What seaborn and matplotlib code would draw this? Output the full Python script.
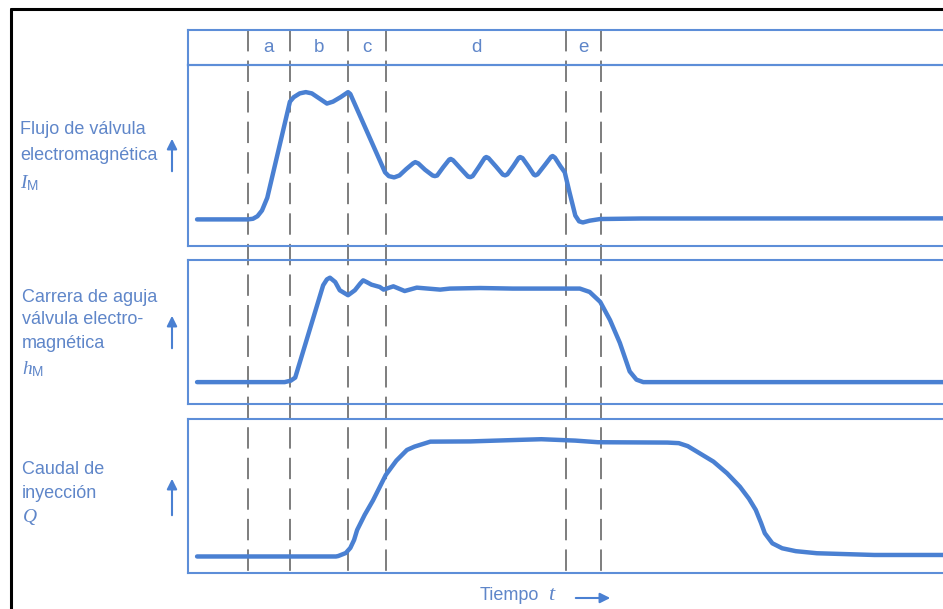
import numpy as np
import pandas as pd
import seaborn as sns
import matplotlib.pyplot as plt
from matplotlib.lines import Line2D

# phase boundaries (time axis 0..100) and labels
bounds = [7.95, 13.5, 21.2, 26.2, 50.1, 54.7]
phases = ["a", "b", "c", "d", "e"]

# valve current I_M
t_flujo = [1.2, 7.9, 8.6, 9.2, 9.8, 10.5, 13.5, 14.0, 14.8, 15.6, 16.4, 17.4, 18.4,
           19.2, 20.2, 21.2, 21.5, 26.1, 26.6, 27.3, 28.0, 28.9, 29.8, 30.1, 30.5,
           31.4, 32.4, 32.7, 33.0, 33.8, 34.6, 34.8, 35.1, 36.1, 37.1, 37.4, 37.7,
           38.5, 39.3, 39.5, 39.8, 40.8, 41.7, 42.0, 42.3, 43.1, 43.8, 44.0, 44.3,
           45.1, 45.8, 46.0, 46.3, 47.3, 48.1, 48.3, 48.6, 49.3, 49.9, 50.5, 51.3,
           51.8, 52.3, 53.2, 54.6, 60.0, 100.0]
v_flujo = [0, 0, 0.5, 2.5, 7, 17, 92.5, 96, 99, 100, 99, 95, 91,
           92.5, 96, 100, 98.5, 37, 34, 33, 34.5, 39.5, 44, 45, 44,
           39, 34.5, 34, 34.5, 41, 47, 47.5, 46.5, 40, 33.6, 33.2, 34,
           41, 48.3, 49, 48.2, 41.5, 35.2, 34.6, 35.4, 42, 48.3, 49, 48.2,
           41.5, 35.2, 34.6, 35.4, 43, 49.2, 49.8, 48.5, 42, 37, 22, 3,
           -1.5, -2.4, -1, 0.3, 0.7, 0.8]

# needle lift h_M
t_carrera = [1.2, 12.8, 13.6, 14.2, 17.9, 18.4, 18.8, 19.5, 20.1, 21.2, 22.1, 22.8,
             23.2, 23.7, 24.3, 25.4, 25.9, 27.2, 28.7, 30.3, 33.4, 34.7, 38.7, 43.0,
             51.9, 53.2, 54.6, 55.9, 57.2, 58.5, 59.4, 60.3, 100.0]
v_carrera = [0, 0, 1.5, 4.8, 103.2, 109.5, 111.3, 106.7, 97.9, 92.6, 97.9, 105,
             108.5, 106.5, 103.9, 101.4, 98.6, 102.1, 97.1, 100.7, 98.6, 99.7, 100.3, 99.7,
             99.7, 96.1, 85.5, 66.1, 41.8, 11.4, 2.6, 0, 0]

# injection rate Q
t_caudal = [1.2, 19.6, 19.9, 20.9, 21.5, 22.0, 22.4, 23.4, 24.5, 26.2, 27.6, 29.0,
            30.0, 32.1, 37.4, 43.7, 46.8, 51.3, 54.3, 63.5, 65.0, 66.2, 67.6, 69.6,
            71.4, 73.1, 74.3, 75.2, 75.9, 76.4, 77.4, 78.7, 80.5, 83.3, 90.9, 100.0]
v_caudal = [0, 0, 0.4, 3, 7.4, 14.3, 22.9, 36, 48.5, 70.6, 83, 92.2,
            95.1, 99.4, 99.6, 100.9, 101.5, 100.3, 98.9, 98.6, 98.1, 95.5, 90, 82.1,
            72, 60.4, 50, 40.3, 29, 20.1, 11.4, 7.1, 4.6, 2.8, 1.3, 1.3]

sns.set_style("white")
plt.rcParams['font.family'] = ['Liberation Sans', 'DejaVu Sans']
plt.rcParams['mathtext.fontset'] = 'custom'
plt.rcParams['mathtext.rm'] = 'Liberation Sans'
plt.rcParams['mathtext.it'] = 'Liberation Serif:italic'

frame_col = "#5d8ed8"
curve_col = "#4a80d2"
text_col = "#5f86c9"

W, H = 943, 609
fig = plt.figure(figsize=(W / 100, H / 100), dpi=100)


def box(left, top, right, bottom):
    return [left / W, 1 - bottom / H, (right - left) / W, (bottom - top) / H]


def style_axes(ax):
    ax.set_facecolor("none")
    ax.set_xlim(0, 100)
    ax.set_xticks([])
    ax.set_yticks([])
    ax.set_xlabel("")
    ax.set_ylabel("")
    for side in ["left", "top", "bottom"]:
        ax.spines[side].set_color(frame_col)
        ax.spines[side].set_linewidth(1.5)
        ax.spines[side].set_visible(True)
    ax.spines["right"].set_visible(False)


# dashed phase guides running through all panels
guide = fig.add_axes(box(188, 30, 943, 573), zorder=0)
guide.set_xlim(0, 100)
guide.set_ylim(0, 1)
guide.axis("off")
for b in bounds:
    guide.plot([b, b], [1, 0], color="#5a5a5a", lw=1.1, ls=(0, (14, 6)))

# header strip with phase letters
head = fig.add_axes(box(188, 30, 943, 65), zorder=1)
style_axes(head)
head.set_ylim(0, 1)
for i, p in enumerate(phases):
    head.text((bounds[i] + bounds[i + 1]) / 2, 0.5, p, ha="center", va="center",
              color=text_col, fontsize=13.5)

panels = [
    (box(188, 65, 943, 245.5), t_flujo, v_flujo, (-20.5, 121.3)),
    (box(188, 259.5, 943, 403.5), t_carrera, v_carrera, (-22.8, 130.7)),
    (box(188, 419, 943, 573), t_caudal, v_caudal, (-14.3, 119)),
]
for rect, t, v, ylim in panels:
    ax = fig.add_axes(rect, zorder=1)
    df = pd.DataFrame({"t": t, "v": v})
    sns.lineplot(data=df, x="t", y="v", ax=ax, color=curve_col, lw=3.2,
                 estimator=None, sort=False, solid_joinstyle="round",
                 solid_capstyle="round")
    style_axes(ax)
    ax.set_ylim(*ylim)

# left-hand labels
def label(x, y, s, size=13):
    fig.text(x / W, 1 - y / H, s, ha="left", va="center", color=text_col, fontsize=size)

label(20, 130, "Flujo de válvula")
label(20, 156, "electromagnética")
label(20, 183, r"$I_{\mathrm{M}}$", 14)
label(22, 297, "Carrera de aguja")
label(22, 320, "válvula electro-")
label(22, 343, "magnética")
label(22, 369, r"$h_{\mathrm{M}}$", 14)
label(22, 470, "Caudal de")
label(22, 493, "inyección")
label(22, 517, r"$Q$", 14)

arrow = dict(arrowstyle="-|>", color=curve_col, lw=1.5, mutation_scale=15)
for y0, y1 in [(174, 136), (351, 313), (518, 476)]:
    guide.annotate("", xy=(172 / W, 1 - y1 / H), xytext=(172 / W, 1 - y0 / H),
                   xycoords="figure fraction", textcoords="figure fraction",
                   arrowprops=arrow)

# time label
label(480, 596, "Tiempo")
label(548, 595, r"$t$", 16)
guide.annotate("", xy=(613 / W, 1 - 598 / H), xytext=(573 / W, 1 - 598 / H),
               xycoords="figure fraction", textcoords="figure fraction",
               arrowprops=arrow)

# black outer frame
fig.add_artist(Line2D([10.5 / W, 10.5 / W], [0, 1 - 8.5 / H], color="black", lw=2.2,
                      transform=fig.transFigure))
fig.add_artist(Line2D([10.5 / W, 1], [1 - 8.5 / H, 1 - 8.5 / H], color="black", lw=2.2,
                      transform=fig.transFigure))

fig.savefig("out.png", dpi=100)
